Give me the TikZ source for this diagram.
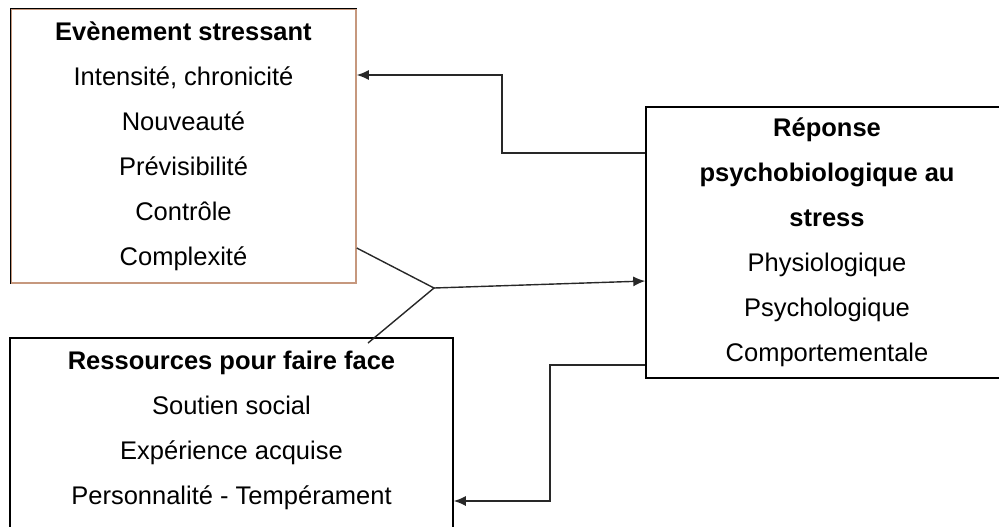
\documentclass[tikz,border=0pt]{standalone}
\usepackage{fontspec}
\setmainfont{Liberation Sans}
\usepackage{tikz}
\usetikzlibrary{arrows.meta, positioning}
\usepackage{xcolor}
\definecolor{boxtan}{RGB}{198,152,126}
\definecolor{inkgray}{RGB}{40,40,40}

\begin{document}
\begin{tikzpicture}[x=0.5pt, y=-0.5pt, >={Latex[length=6pt,width=5pt]},
  box/.style={draw=black, line width=0.75pt, align=center, inner sep=0pt,
    font=\fontsize{12.75pt}{22.5pt}\selectfont},
  link/.style={draw=inkgray, line width=0.7pt}]

\useasboundingbox (0,0) rectangle (999,526);

% boxes
\node[box, draw=boxtan, minimum width=172.5pt, minimum height=137pt] (ev) at (183.5,146)
  {\textbf{Evènement stressant}\\ Intensité, chronicité\\ Nouveauté\\ Prévisibilité\\ Contrôle\\ Complexité};
\draw[line width=0.75pt] (ev.south west) |- (ev.north east);

\node[box, minimum width=181pt, minimum height=135.5pt] (rep) at (827,242.5)
  {\textbf{Réponse}\\ \textbf{psychobiologique au}\\ \textbf{stress}\\ Physiologique\\ Psychologique\\ Comportementale};

\node[box, minimum width=221.5pt, minimum height=101pt, text depth=11.5pt] (res) at (231.5,439)
  {\textbf{Ressources pour faire face}\\ Soutien social\\ Expérience acquise\\ Personnalité - Tempérament};

% junction of the two inputs
\coordinate (j) at (434,288);
\coordinate (rj) at (368,343);

% arrows
\draw[link, <-] (ev.east |- 0,75) -| (502,153) -- (rep.west |- 0,153);
\draw[link] (ev.east |- 0,248) -- (j) -- (rj);
\draw[link, ->] (j) -- (rep.west |- 0,281);
\draw[link, ->] (rep.west |- 0,365) -| (550,501) -- (res.east |- 0,501);

\end{tikzpicture}
\end{document}
